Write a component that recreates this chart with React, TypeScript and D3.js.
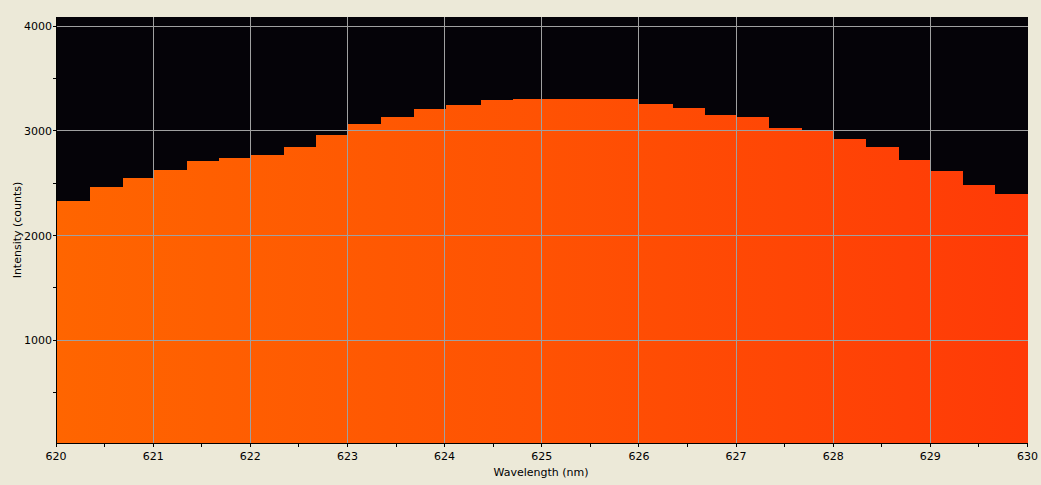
import React from "react";
import * as d3 from "d3";

// Bin start wavelengths (nm)
const binStarts: number[] = [
  620.0, 620.35, 620.69, 621.01, 621.35, 621.68, 622.01, 622.35, 622.68, 623.01,
  623.35, 623.68, 624.01, 624.37, 624.7, 625.01, 625.35, 625.68, 626.0, 626.35,
  626.68, 627.0, 627.34, 627.68, 628.0, 628.34, 628.68, 629.0, 629.34, 629.67,
];
const binEnd = 630;
// Intensity (counts) per bin
const intensities: number[] = [
  2331, 2465, 2550, 2627, 2713, 2742, 2771, 2847, 2961, 3066,
  3133, 3210, 3248, 3296, 3306, 3306, 3306, 3306, 3258, 3220,
  3153, 3133, 3028, 3000, 2923, 2847, 2723, 2617, 2483, 2397,
];
const xMajorTicks: number[] = [620, 621, 622, 623, 624, 625, 626, 627, 628, 629, 630];
const xMinorTicks: number[] = [620.5, 621.5, 622.5, 623.5, 624.5, 625.5, 626.5, 627.5, 628.5, 629.5];
const yMajorTicks: number[] = [1000, 2000, 3000, 4000];
const yMinorTicks: number[] = [500, 1500, 2500, 3500];
const xTitle = "Wavelength (nm)";
const yTitle = "Intensity (counts)";

const W = 1041;
const H = 485;
const L = 56;
const R = 1027.5;
const T = 17;
const B = 443;
const FONT = "'DejaVu Sans', sans-serif";

if (typeof document !== "undefined") {
  document.body.style.margin = "0";
}

export default function App() {
  const x = d3.scaleLinear().domain([620, 630]).range([L, R]);
  const y = d3.scaleLinear().domain([19, 4089]).range([B, T]);

  const pts: [number, number][] = binStarts.map((s, i) => [s, intensities[i]]);
  pts.push([binEnd, intensities[intensities.length - 1]]);
  const area = d3
    .area<[number, number]>()
    .x((d) => Math.round(x(d[0])))
    .y0(B)
    .y1((d) => Math.round(y(d[1])))
    .curve(d3.curveStepAfter);

  const px = (v: number) => Math.floor(x(v)) + 0.5;
  const py = (v: number) => Math.floor(y(v)) + 0.5;

  return (
    <svg width={W} height={H} style={{ display: "block" }}>
      <defs>
        <linearGradient id="spec" gradientUnits="userSpaceOnUse" x1={57} x2={1028} y1={0} y2={0}>
          <stop offset="0" stopColor="#ff6500" />
          <stop offset="0.5" stopColor="#ff5203" />
          <stop offset="1" stopColor="#ff3a07" />
        </linearGradient>
      </defs>
      <rect x={0} y={0} width={W} height={H} fill="#ece9d8" />
      <rect x={57} y={T} width={1028 - 57} height={B - T} fill="#050308" />
      <path d={area(pts) || ""} fill="url(#spec)" shapeRendering="crispEdges" />
      {/* grid */}
      {xMajorTicks.slice(1, -1).map((t) => (
        <line key={"gx" + t} x1={px(t)} x2={px(t)} y1={T} y2={B} stroke="#a0a0a0" strokeWidth={1} />
      ))}
      {yMajorTicks.map((t) => (
        <line key={"gy" + t} x1={57} x2={1028} y1={py(t)} y2={py(t)} stroke="#a0a0a0" strokeWidth={1} />
      ))}
      {/* axes */}
      <line x1={56.5} x2={56.5} y1={T} y2={B + 1} stroke="#000" />
      <line x1={56} x2={1028} y1={B + 0.5} y2={B + 0.5} stroke="#000" />
      {yMajorTicks.concat(yMinorTicks).map((t) => (
        <line key={"ty" + t} x1={53} x2={57} y1={py(t)} y2={py(t)} stroke="#000" />
      ))}
      {xMajorTicks.concat(xMinorTicks).map((t) => (
        <line key={"tx" + t} x1={t === 630 ? 1027.5 : px(t)} x2={t === 630 ? 1027.5 : px(t)} y1={B} y2={B + 4} stroke="#000" />
      ))}
      {yMajorTicks.map((t) => (
        <text key={"ly" + t} x={52} y={y(t)} dy="0.36em" textAnchor="end" fontFamily={FONT} fontSize={11} fill="#000">
          {t}
        </text>
      ))}
      {xMajorTicks.map((t) => (
        <text key={"lx" + t} x={x(t)} y={460} textAnchor="middle" fontFamily={FONT} fontSize={11} fill="#000">
          {t}
        </text>
      ))}
      <text x={541} y={476} textAnchor="middle" fontFamily={FONT} fontSize={11} fill="#000">
        {xTitle}
      </text>
      <text transform={`translate(21,${(T + B) / 2}) rotate(-90)`} textAnchor="middle" fontFamily={FONT} fontSize={11} fill="#000">
        {yTitle}
      </text>
    </svg>
  );
}
